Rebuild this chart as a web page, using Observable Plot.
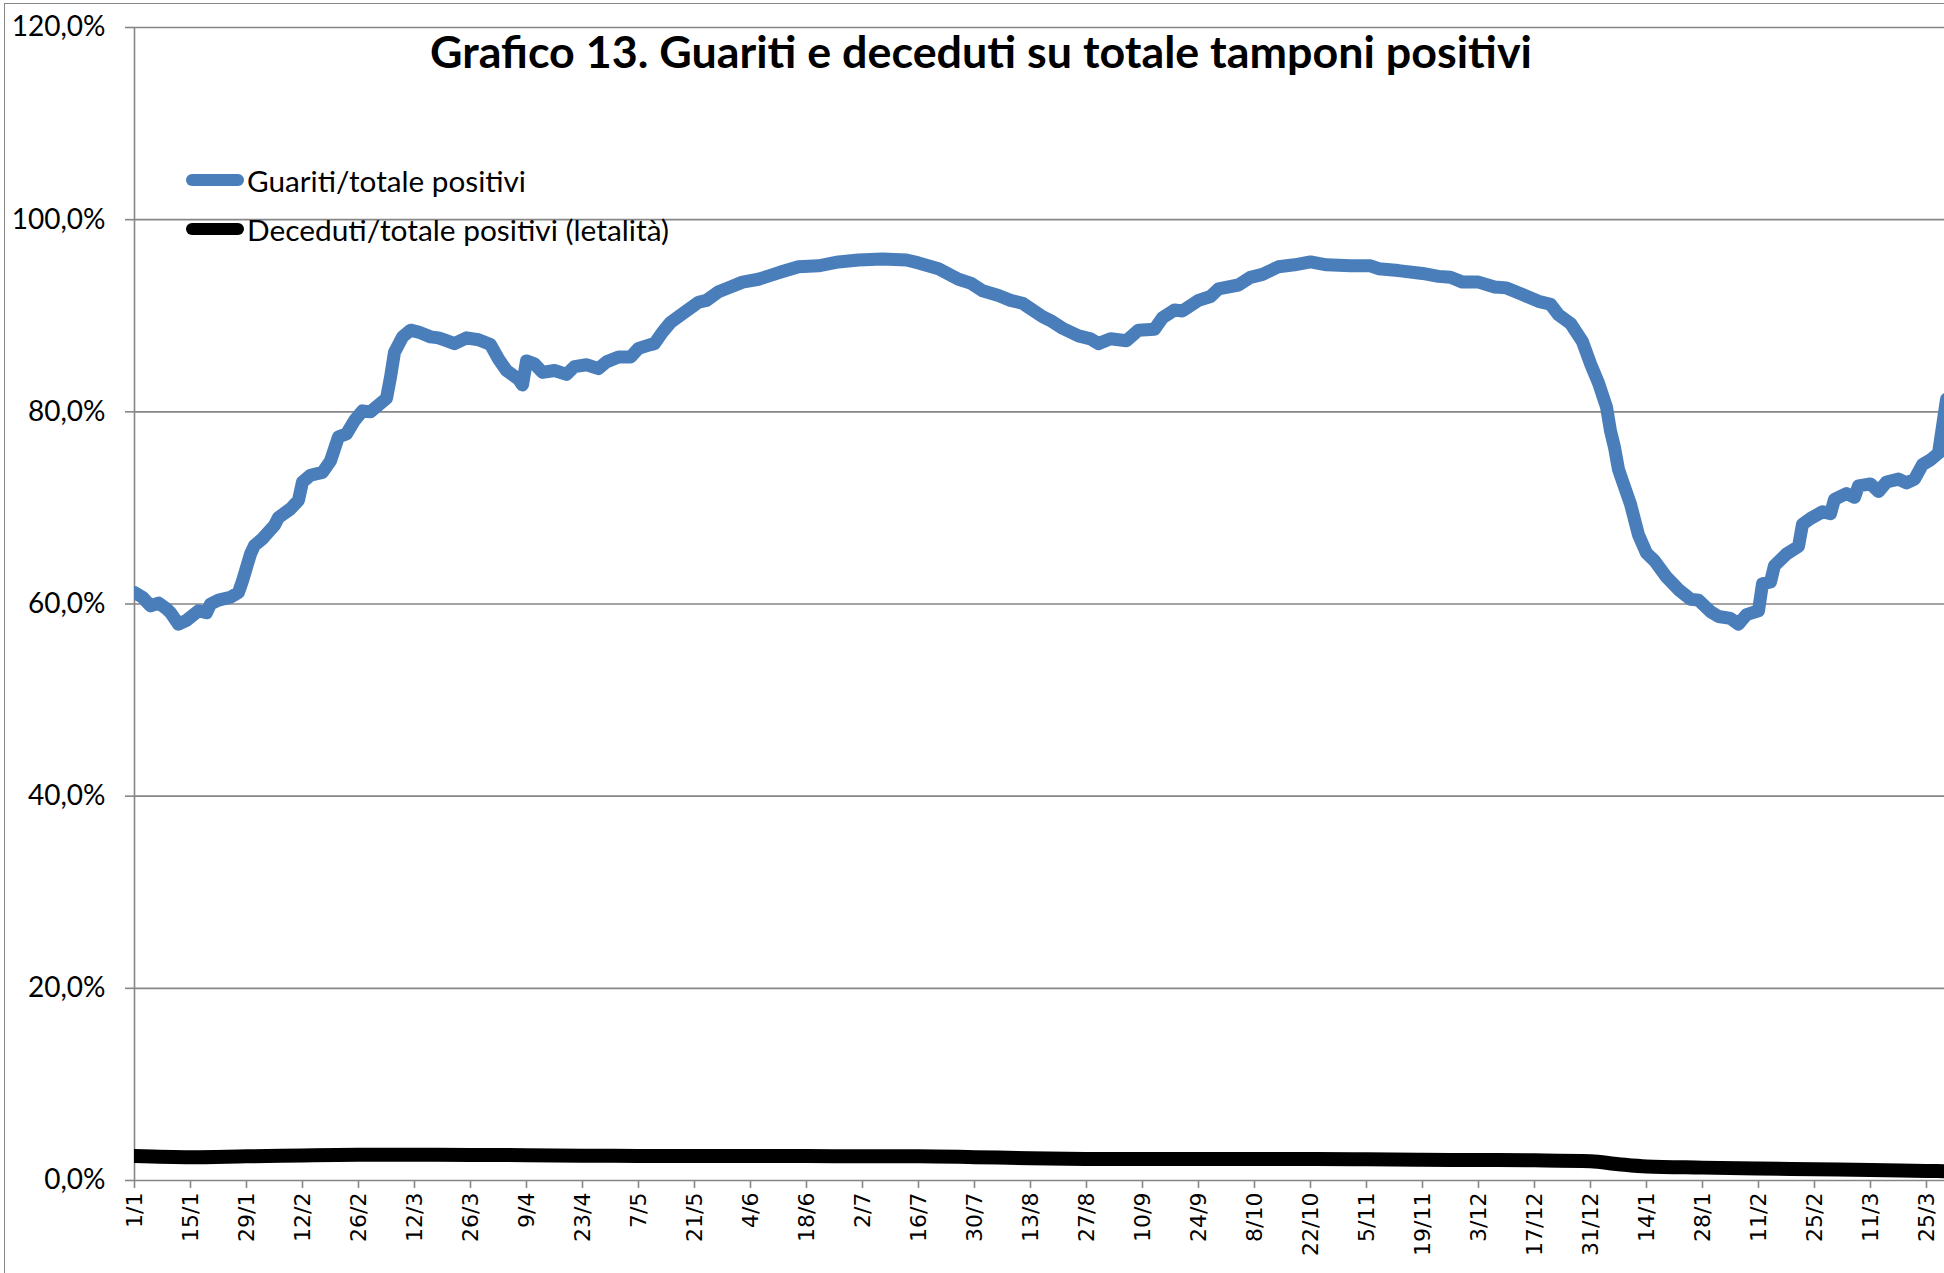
<!DOCTYPE html>
<html>
<head>
<meta charset="utf-8">
<script src="https://cdn.jsdelivr.net/npm/d3@7"></script>
<script src="https://cdn.jsdelivr.net/npm/@observablehq/plot@0.6"></script>
<style>
  html, body { margin: 0; padding: 0; background: #fff; }
  #wrap { position: relative; width: 1944px; height: 1273px; overflow: hidden; background: #fff; }
  #frame { position: absolute; left: 4px; top: 3px; right: -5px; bottom: -5px; border-left: 1.5px solid #888; border-top: 1.5px solid #888; pointer-events: none; }
  #chart { position: absolute; left: 0; top: 0; }
  #title { position: absolute; left: 430px; top: 24px; font-family: Lato, sans-serif; font-weight: 700; font-size: 43px; line-height: 56px; white-space: nowrap; color: #000; transform-origin: 0 50%; }
  .leg { position: absolute; left: 186px; height: 40px; display: flex; align-items: center; font-family: Lato, sans-serif; font-size: 29px; white-space: nowrap; color: #000; }
  .leg .sw { width: 58px; height: 12px; border-radius: 6px; margin-right: 3px; flex: none; }
  .leg .tx { display: inline-block; transform-origin: 0 50%; }
</style>
</head>
<body>
<div id="wrap">
  <div id="chart"></div>
  <div id="frame"></div>
  <div id="title">Grafico 13. Guariti e deceduti su totale tamponi positivi</div>
  <div class="leg" id="leg1" style="top:160px"><span class="sw" style="background:#4a7ebb"></span><span class="tx" data-w="279">Guariti/totale positivi</span></div>
  <div class="leg" id="leg2" style="top:209px"><span class="sw" style="background:#000"></span><span class="tx" data-w="422">Deceduti/totale positivi (letalità)</span></div>
</div>
<script>
// ---- Data ----
const seriesNames = ["Guariti/totale positivi", "Deceduti/totale positivi (letalità)"];

const guaritiDates = [
  "2021-01-01","2021-01-03","2021-01-05","2021-01-07","2021-01-09","2021-01-10","2021-01-12","2021-01-14",
  "2021-01-17","2021-01-19","2021-01-20","2021-01-22","2021-01-25","2021-01-27","2021-01-28","2021-01-30",
  "2021-01-31","2021-02-02","2021-02-05","2021-02-06","2021-02-09","2021-02-11","2021-02-12","2021-02-14",
  "2021-02-17","2021-02-19","2021-02-21","2021-02-23","2021-02-25","2021-02-27","2021-03-01","2021-03-05",
  "2021-03-06","2021-03-07","2021-03-09","2021-03-11","2021-03-13","2021-03-16","2021-03-18","2021-03-20",
  "2021-03-22","2021-03-25","2021-03-28","2021-03-31","2021-04-02","2021-04-04","2021-04-07","2021-04-08",
  "2021-04-09","2021-04-11","2021-04-13","2021-04-16","2021-04-19","2021-04-21","2021-04-24","2021-04-27",
  "2021-04-29","2021-05-02","2021-05-05","2021-05-07","2021-05-10","2021-05-11","2021-05-13","2021-05-15",
  "2021-05-18","2021-05-22","2021-05-24","2021-05-27","2021-05-30","2021-06-02","2021-06-06","2021-06-09",
  "2021-06-12","2021-06-16","2021-06-21","2021-06-26","2021-07-01","2021-07-07","2021-07-13","2021-07-16",
  "2021-07-21","2021-07-26","2021-07-29","2021-08-01","2021-08-05","2021-08-08","2021-08-11","2021-08-16",
  "2021-08-18","2021-08-21","2021-08-25","2021-08-28","2021-08-30","2021-09-02","2021-09-06","2021-09-09",
  "2021-09-13","2021-09-15","2021-09-18","2021-09-20","2021-09-24","2021-09-27","2021-09-29","2021-10-04",
  "2021-10-07","2021-10-10","2021-10-14","2021-10-18","2021-10-22","2021-10-26","2021-11-01","2021-11-06",
  "2021-11-08","2021-11-13","2021-11-19","2021-11-23","2021-11-26","2021-11-29","2021-12-03","2021-12-07",
  "2021-12-10","2021-12-14","2021-12-18","2021-12-21","2021-12-23","2021-12-26","2021-12-29","2021-12-31",
  "2022-01-02","2022-01-04","2022-01-05","2022-01-06","2022-01-07","2022-01-08","2022-01-10","2022-01-12",
  "2022-01-14","2022-01-16","2022-01-19","2022-01-22","2022-01-25","2022-01-27","2022-01-30","2022-02-01",
  "2022-02-04","2022-02-06","2022-02-08","2022-02-11","2022-02-12","2022-02-14","2022-02-15","2022-02-18",
  "2022-02-21","2022-02-22","2022-02-24","2022-02-27","2022-03-01","2022-03-02","2022-03-05","2022-03-07",
  "2022-03-08","2022-03-11","2022-03-13","2022-03-15","2022-03-18","2022-03-20","2022-03-22","2022-03-24",
  "2022-03-26","2022-03-28","2022-03-29","2022-03-30"
];
const guaritiValues = [
  61.2,60.7,59.8,60.1,59.5,59.1,57.9,58.3,
  59.3,59.1,60.0,60.4,60.7,61.2,62.4,65.2,
  66.1,66.8,68.2,69.0,69.9,70.8,72.7,73.4,
  73.7,74.9,77.4,77.7,79.1,80.1,80.0,81.4,
  83.6,86.2,87.8,88.5,88.3,87.8,87.7,87.4,
  87.1,87.7,87.5,87.0,85.5,84.3,83.4,82.8,
  85.3,85.0,84.1,84.3,83.9,84.7,84.9,84.5,
  85.2,85.7,85.7,86.6,87.0,87.1,88.3,89.3,
  90.2,91.4,91.6,92.5,93.0,93.5,93.8,94.2,
  94.6,95.1,95.2,95.6,95.8,95.9,95.8,95.5,
  94.9,93.8,93.4,92.6,92.1,91.6,91.3,89.9,
  89.5,88.7,87.9,87.6,87.1,87.6,87.4,88.5,
  88.6,89.8,90.6,90.5,91.6,92.0,92.8,93.2,
  94.0,94.3,95.1,95.3,95.6,95.3,95.2,95.2,
  94.9,94.7,94.4,94.1,94.0,93.5,93.5,93.0,
  92.9,92.2,91.5,91.2,90.1,89.2,87.3,85.0,
  83.0,80.5,78.0,76.3,74.0,72.8,70.4,67.2,
  65.3,64.5,62.8,61.5,60.5,60.4,59.2,58.7,
  58.5,57.9,58.9,59.3,62.1,62.3,64.0,65.2,
  66.0,68.3,68.9,69.6,69.4,70.9,71.5,71.1,
  72.3,72.5,71.7,72.7,73.0,72.6,73.0,74.5,
  75.0,75.7,78.5,81.3
];

const decedutiDates = [
  "2021-01-01","2021-01-15","2021-01-29","2021-02-12","2021-02-26","2021-03-12","2021-03-26","2021-04-09",
  "2021-04-23","2021-05-07","2021-05-21","2021-06-04","2021-06-18","2021-07-02","2021-07-16","2021-07-30",
  "2021-08-13","2021-08-27","2021-09-10","2021-09-24","2021-10-08","2021-10-22","2021-11-05","2021-11-19",
  "2021-12-03","2021-12-17","2021-12-31","2022-01-07","2022-01-14","2022-01-28","2022-02-11","2022-02-25",
  "2022-03-11","2022-03-25","2022-03-30"
];
const decedutiValues = [
  2.55,2.43,2.52,2.6,2.67,2.68,2.66,2.64,
  2.58,2.56,2.55,2.54,2.54,2.53,2.52,2.43,
  2.32,2.25,2.24,2.24,2.25,2.25,2.2,2.15,
  2.14,2.1,2.0,1.7,1.46,1.34,1.24,1.17,
  1.1,1.0,0.97
];

const xTickDates = [
  "2021-01-01","2021-01-15","2021-01-29","2021-02-12","2021-02-26","2021-03-12","2021-03-26","2021-04-09",
  "2021-04-23","2021-05-07","2021-05-21","2021-06-04","2021-06-18","2021-07-02","2021-07-16","2021-07-30",
  "2021-08-13","2021-08-27","2021-09-10","2021-09-24","2021-10-08","2021-10-22","2021-11-05","2021-11-19",
  "2021-12-03","2021-12-17","2021-12-31","2022-01-14","2022-01-28","2022-02-11","2022-02-25","2022-03-11",
  "2022-03-25"
];
const yTicks = [0, 20, 40, 60, 80, 100, 120];
const xStart = "2021-01-01";
const xEnd = "2022-03-29T12:00:00Z";

// ---- Build ----
const guariti = guaritiDates.map((d, i) => ({date: new Date(d), value: guaritiValues[i], serie: seriesNames[0]}));
const deceduti = decedutiDates.map((d, i) => ({date: new Date(d), value: decedutiValues[i], serie: seriesNames[1]}));
const gridColor = "#868686";

const chart = Plot.plot({
  width: 1944,
  height: 1273,
  marginLeft: 134,
  marginRight: 0,
  marginTop: 27,
  marginBottom: 93,
  style: {background: "transparent", overflow: "visible"},
  x: {type: "utc", domain: [new Date(xStart), new Date(xEnd)]},
  y: {domain: [0, 120]},
  marks: [
    Plot.gridY(yTicks.filter(t => t > 0), {stroke: gridColor, strokeOpacity: 1, strokeWidth: 1.6}),
    Plot.axisY(yTicks, {
      tickSize: 9, tickPadding: 20, stroke: gridColor, strokeWidth: 1.6,
      tickFormat: v => v.toFixed(1).replace(".", ",") + "%",
      fontSize: 28, fontFamily: "Lato, sans-serif", fill: "#000", label: null
    }),
    Plot.axisX(xTickDates.map(d => new Date(d)), {
      tickSize: 8, tickPadding: 4, tickRotate: -90, stroke: gridColor, strokeWidth: 1.6,
      tickFormat: d => `${d.getUTCDate()}/${d.getUTCMonth() + 1}`,
      fontSize: 22, fontFamily: "DejaVu Sans, sans-serif", fill: "#000", label: null
    }),
    Plot.ruleY([0], {stroke: gridColor, strokeWidth: 1.6}),
    Plot.ruleX([new Date(xStart)], {stroke: gridColor, strokeWidth: 1.6}),
    Plot.line(deceduti, {x: "date", y: "value", stroke: "#000", strokeWidth: 14, strokeLinecap: "round", strokeLinejoin: "round", curve: "monotone-x", clip: "frame"}),
    Plot.line(guariti, {x: "date", y: "value", stroke: "#4a7ebb", strokeWidth: 13, strokeLinecap: "round", strokeLinejoin: "round", clip: "frame"})
  ]
});
document.getElementById("chart").appendChild(chart);

// Fit title / legend text widths to the reference's narrow type
function fit() {
  const t = document.getElementById("title");
  t.style.transform = "none";
  const w = t.getBoundingClientRect().width;
  t.style.transform = `scaleX(${1102 / w})`;
  document.querySelectorAll(".leg .tx").forEach(el => {
    el.style.transform = "none";
    const ww = el.getBoundingClientRect().width;
    el.style.transform = `scaleX(${(+el.dataset.w) / ww})`;
  });
}
fit();
if (document.fonts && document.fonts.ready) document.fonts.ready.then(fit);
</script>
</body>
</html>
